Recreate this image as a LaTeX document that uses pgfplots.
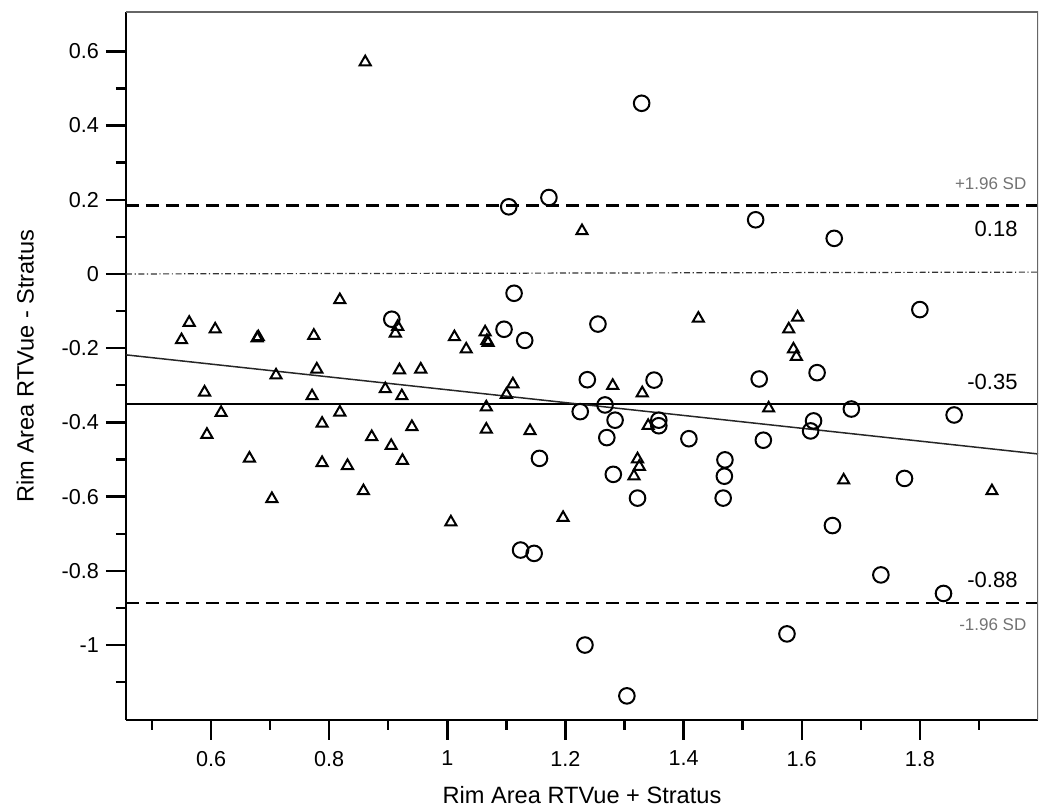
\documentclass[border=0pt]{standalone}
\usepackage{pgfplots}
\pgfplotsset{compat=1.18}
\usepackage{fontspec}
\setmainfont{Liberation Sans}
\begin{document}
\begin{tikzpicture}
\begin{axis}[
  name=ax,
  scale only axis, width=456pt, height=354pt,
  xmin=0.456, xmax=2.0, ymin=-1.202, ymax=0.706,
  axis x line*=bottom, axis y line*=left,
  axis line style={line width=1pt, -},
  tick align=outside,
  xtick={0.6,0.8,1,1.2,1.4,1.6,1.8},
  xticklabels={0.6,0.8,1,1.2,1.4,1.6,1.8},
  minor xtick={0.5,0.7,0.9,1.1,1.3,1.5,1.7,1.9},
  ytick={-1,-0.8,-0.6,-0.4,-0.2,0,0.2,0.4,0.6},
  yticklabels={-1,-0.8,-0.6,-0.4,-0.2,0,0.2,0.4,0.6},
  minor ytick={-1.1,-0.9,-0.7,-0.5,-0.3,-0.1,0.1,0.3,0.5},
  major tick length=10pt, minor tick length=5pt,
  every tick/.style={black, line width=1.2pt},
  tick label style={font=\fontsize{10.8}{12}\selectfont},
  xticklabel shift=2pt,
  xlabel={Rim Area RTVue + Stratus},
  ylabel={Rim Area RTVue - Stratus},
  label style={font=\fontsize{11.8}{14}\selectfont},
  xlabel shift=3pt,
  ylabel shift=7pt,
]
% limits of agreement and mean
\addplot[black, line width=1.2pt, dash pattern=on 6.5pt off 3.5pt] coordinates {(0.456,0.185)(2.0,0.185)};
\addplot[black, line width=1.2pt, dash pattern=on 6.5pt off 3.5pt] coordinates {(0.456,-0.886)(2.0,-0.886)};
\addplot[black, line width=1pt] coordinates {(0.456,-0.35)(2.0,-0.35)};
\addplot[black!80, line width=0.6pt, dash pattern=on 3pt off 1.3pt on 0.6pt off 1.3pt] coordinates {(0.456,0)(2.0,0.005)};
% regression line
\addplot[black!85, line width=0.75pt] coordinates {(0.456,-0.218)(2.0,-0.485)};
% triangles
\addplot[only marks, mark=triangle, mark size=3.2pt, black, mark options={line width=1pt}] coordinates {
(0.550,-0.178)(0.563,-0.131)(0.589,-0.319)(0.593,-0.433)(0.607,-0.149)(0.617,-0.374)
(0.665,-0.497)(0.678,-0.173)(0.680,-0.170)(0.703,-0.606)(0.710,-0.273)(0.771,-0.329)
(0.774,-0.166)(0.779,-0.257)(0.788,-0.403)(0.788,-0.509)(0.818,-0.070)(0.818,-0.373)
(0.831,-0.517)(0.858,-0.585)(0.861,0.571)(0.872,-0.439)(0.895,-0.310)(0.905,-0.463)
(0.912,-0.160)(0.916,-0.142)(0.919,-0.259)(0.923,-0.329)(0.924,-0.503)(0.940,-0.412)
(0.955,-0.257)(1.006,-0.669)(1.012,-0.170)(1.032,-0.203)(1.064,-0.157)(1.069,-0.185)
(1.067,-0.180)(1.066,-0.359)(1.066,-0.419)(1.100,-0.325)(1.111,-0.297)(1.140,-0.423)
(1.196,-0.657)(1.228,0.116)(1.280,-0.301)(1.316,-0.545)(1.322,-0.499)(1.325,-0.519)
(1.330,-0.321)(1.340,-0.409)(1.425,-0.120)(1.544,-0.362)(1.578,-0.149)(1.586,-0.203)
(1.591,-0.223)(1.593,-0.117)(1.671,-0.556)(1.922,-0.585)
};
% circles
\addplot[only marks, mark=o, mark size=3.9pt, black, mark options={line width=1pt}] coordinates {
(0.906,-0.122)(1.096,-0.149)(1.104,0.181)(1.113,-0.052)(1.124,-0.744)(1.131,-0.179)
(1.147,-0.753)(1.156,-0.497)(1.172,0.206)(1.225,-0.371)(1.233,-1.000)(1.237,-0.285)
(1.255,-0.135)(1.267,-0.353)(1.270,-0.441)(1.281,-0.540)(1.284,-0.394)(1.304,-1.137)
(1.322,-0.604)(1.329,0.460)(1.350,-0.286)(1.358,-0.394)(1.358,-0.409)(1.409,-0.444)
(1.467,-0.604)(1.469,-0.545)(1.470,-0.501)(1.522,0.146)(1.528,-0.283)(1.535,-0.448)
(1.575,-0.970)(1.615,-0.423)(1.620,-0.396)(1.626,-0.266)(1.652,-0.678)(1.655,0.096)
(1.684,-0.364)(1.734,-0.811)(1.774,-0.551)(1.800,-0.096)(1.840,-0.861)(1.858,-0.380)
};
% frame top and right
\draw[black!60, line width=1pt] (rel axis cs:0,1) -- (rel axis cs:1,1) -- (rel axis cs:1,0);
% annotations
\node[anchor=east, text=black!55, font=\fontsize{8.5}{10}\selectfont, inner sep=0pt] at (axis cs:1.981,0.243) {+1.96 SD};
\node[anchor=east, font=\fontsize{11}{13}\selectfont, inner sep=0pt] at (axis cs:1.966,0.121) {0.18};
\node[anchor=east, font=\fontsize{11}{13}\selectfont, inner sep=0pt] at (axis cs:1.966,-0.290) {-0.35};
\node[anchor=east, font=\fontsize{11}{13}\selectfont, inner sep=0pt] at (axis cs:1.966,-0.825) {-0.88};
\node[anchor=east, text=black!55, font=\fontsize{8.5}{10}\selectfont, inner sep=0pt] at (axis cs:1.981,-0.946) {-1.96 SD};
\end{axis}
\path (ax.south west) ++(-63pt,-45pt);
\path (ax.north east) ++(6pt,6pt);
\end{tikzpicture}
\end{document}
